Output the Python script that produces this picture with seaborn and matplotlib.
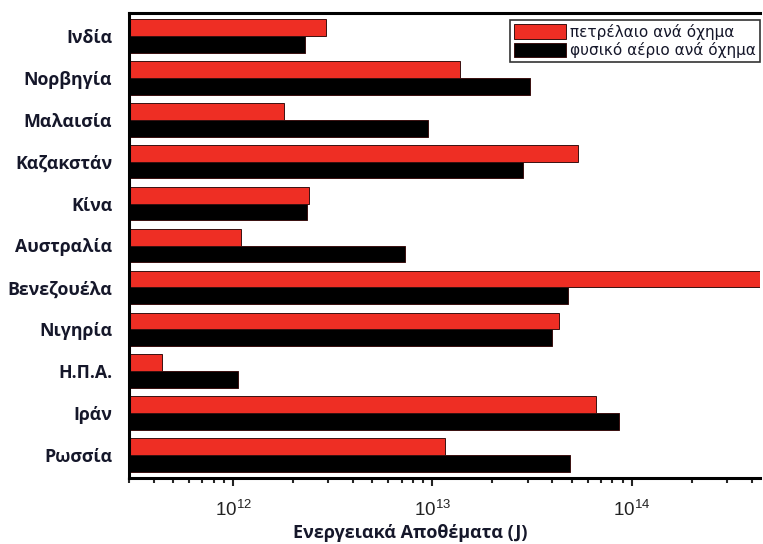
import matplotlib
matplotlib.use("Agg")
import matplotlib.pyplot as plt
import seaborn as sns
import pandas as pd
from matplotlib.ticker import LogLocator

countries = ["Ινδία", "Νορβηγία", "Μαλαισία", "Καζακστάν", "Κίνα", "Αυστραλία",
             "Βενεζουέλα", "Νιγηρία", "Η.Π.Α.", "Ιράν", "Ρωσσία"]
oil_per_vehicle = [2.93e12, 1.37e13, 1.80e12, 5.4e13, 2.40e12, 1.10e12,
                   4.6e14, 4.3e13, 4.4e11, 6.6e13, 1.16e13]
gas_per_vehicle = [2.30e12, 3.10e13, 9.5e12, 2.83e13, 2.35e12, 7.3e12,
                   4.8e13, 4.0e13, 1.06e12, 8.6e13, 4.9e13]
series_names = ["πετρέλαιο ανά όχημα", "φυσικό αέριο ανά όχημα"]
x_label = "Ενεργειακά Αποθέματα (J)"

df = pd.DataFrame({
    "country": countries * 2,
    "value": oil_per_vehicle + gas_per_vehicle,
    "series": [series_names[0]] * len(countries) + [series_names[1]] * len(countries),
})

sns.set_theme(style="white")
plt.rcParams["font.family"] = ["Open Sans", "DejaVu Sans"]

fig = plt.figure(figsize=(7.63, 5.44), dpi=100)
ax = fig.add_axes([129 / 763, 1 - 478 / 544, (760 - 129) / 763, (478 - 13) / 544])

palette = {series_names[0]: "#EE2E24", series_names[1]: "#000000"}
sns.barplot(data=df, y="country", x="value", hue="series", palette=palette,
            orient="h", width=0.8, saturation=1, edgecolor="#3a1010", linewidth=0.7,
            ax=ax, legend=True)
ax.set_xscale("log", nonpositive="clip")

ax.set_xlim(3.0e11, 4.4e14)
ax.set_ylim(10.55, -0.55)
ax.xaxis.set_major_locator(LogLocator(base=10, numticks=10))
ax.xaxis.set_minor_locator(LogLocator(base=10, subs=range(2, 10), numticks=100))
ax.tick_params(axis="x", which="major", direction="out", length=6, width=1.5,
               bottom=True, labelsize=13.5, colors="#222222", pad=10)
ax.tick_params(axis="x", which="minor", direction="out", length=3.5, width=1.5,
               bottom=True)
ax.tick_params(axis="y", length=0, pad=12)
for lbl in ax.get_yticklabels():
    lbl.set_fontweight("bold")
    lbl.set_fontsize(12.8)
    lbl.set_color("#15172a")
for lbl in ax.get_xticklabels():
    lbl.set_family("Liberation Sans")

ax.set_ylabel("")
ax.set_xlabel(x_label, fontsize=13, fontweight="bold", color="#15172a", labelpad=2)
ax.xaxis.set_label_coords((410 - 129) / 631, -0.1)

for side in ["left", "bottom", "top"]:
    ax.spines[side].set_visible(True)
    ax.spines[side].set_color("black")
    ax.spines[side].set_linewidth(2.2)
ax.spines["right"].set_visible(False)

leg = ax.legend(loc="upper right", bbox_to_anchor=(1.0, 0.985),
                prop={"family": "DejaVu Sans", "size": 11},
                frameon=True, fancybox=False, edgecolor="black",
                handlelength=3.4, handleheight=1.1, borderpad=0.25,
                labelspacing=0.15, handletextpad=0.3, borderaxespad=0.0)
leg.get_frame().set_linewidth(1.2)
for t in leg.get_texts():
    t.set_color("#15172a")

fig.savefig("out.png", dpi=100)
